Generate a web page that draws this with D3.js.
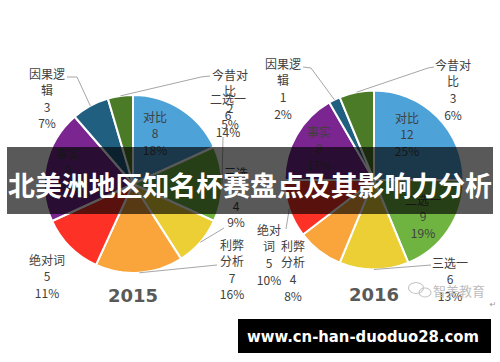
<!DOCTYPE html>
<html>
<head>
<meta charset="utf-8">
<script src="https://cdn.jsdelivr.net/npm/d3@7/dist/d3.min.js"></script>
<style>
  html, body { margin: 0; padding: 0; background: #fff; }
  svg { display: block; }
</style>
</head>
<body>
<svg id="chart" width="500" height="362"></svg>
<script>
// ---- data ----
const categories = ["对比", "二选一", "三选一", "利弊分析", "绝对词", "事实", "因果逻辑", "今昔对比"];
const values2015 = [8, 6, 4, 7, 5, 9, 3, 2];
const values2016 = [12, 9, 6, 4, 5, 8, 1, 3];
const years = ["2015", "2016"];
const titleText = "北美洲地区知名杯赛盘点及其影响力分析";
const siteText = "www.cn-han-duoduo28.com";
const watermarkText = "智美教育";

// ---- styling ----
const sliceColors = ["#4da2d7", "#6fb440", "#eccf35", "#f9a53b", "#fd3126", "#7a2590", "#215f80", "#4b7b27"];
const color = d3.scaleOrdinal(categories, sliceColors);
const cjk = "'Noto Sans CJK SC', 'Noto Sans', sans-serif";

// ---- layout: pie placement, label anchors, wrap widths and leader start points ----
const layouts = {
  "2015": {
    cx: 133, cy: 184, r: 89, yearY: 301.5, lh: 16.6,
    labels: {
      "对比":   { x: 155, y: 116 },
      "二选一": { x: 228, y: 98,  lead: [[223, 137]] },
      "三选一": { x: 236, y: 172, wrap: 2, lead: [[224, 228]] },
      "利弊分析": { x: 232, y: 244, wrap: 2, lead: [[217, 265]] },
      "绝对词": { x: 47,  y: 259 },
      "事实":   { x: 68,  y: 153 },
      "因果逻辑": { x: 47, y: 73, wrap: 3, lead: [[67, 77], [77, 77]] },
      "今昔对比": { x: 230, y: 74, wrap: 3, lead: [[210, 76], [201, 77]] }
    }
  },
  "2016": {
    cx: 374, cy: 180, r: 89.5, yearY: 300.5, lh: 16.8,
    labels: {
      "对比":   { x: 407, y: 117 },
      "二选一": { x: 423, y: 199 },
      "三选一": { x: 450, y: 262, lead: [[431, 265]] },
      "利弊分析": { x: 293, y: 245, wrap: 2 },
      "绝对词": { x: 269, y: 229, wrap: 2, lead: [[286, 229]] },
      "事实":   { x: 319, y: 131 },
      "因果逻辑": { x: 283, y: 63, wrap: 3, lead: [[303, 67], [311, 68]] },
      "今昔对比": { x: 453, y: 64, wrap: 3, lead: [[434, 67], [428, 68]] }
    }
  }
};

const seriesByYear = { "2015": values2015, "2016": values2016 };

const svg = d3.select("#chart");
svg.append("rect").attr("width", 500).attr("height", 362).attr("fill", "#fff");

const pie = d3.pie().sort(null).value(d => d.value);

function chunk(str, n) {
  const out = [];
  for (let i = 0; i < str.length; i += n) out.push(str.slice(i, i + n));
  return out;
}

years.forEach(year => {
  const L = layouts[year];
  const vals = seriesByYear[year];
  const total = d3.sum(vals);
  const data = categories.map((c, i) => ({ name: c, value: vals[i] }));
  const arcs = pie(data);
  const arc = d3.arc().innerRadius(0).outerRadius(L.r);

  const g = svg.append("g");
  g.append("g")
    .attr("transform", `translate(${L.cx},${L.cy})`)
    .selectAll("path")
    .data(arcs)
    .join("path")
    .attr("d", arc)
    .attr("fill", d => color(d.data.name))
    .attr("stroke", "#fff")
    .attr("stroke-width", 2)
    .attr("stroke-linejoin", "round");

  // leader lines from label to the rim at each slice's mid-angle
  const line = d3.line();
  arcs.forEach(a => {
    const lab = L.labels[a.data.name];
    if (!lab || !lab.lead) return;
    const mid = (a.startAngle + a.endAngle) / 2;
    const edge = [L.cx + Math.sin(mid) * L.r, L.cy - Math.cos(mid) * L.r];
    g.append("path")
      .attr("d", line([...lab.lead, edge]))
      .attr("fill", "none")
      .attr("stroke", "#a6a6a6")
      .attr("stroke-width", 1);
  });

  // data labels: name (wrapped), value, percentage
  arcs.forEach(a => {
    const lab = L.labels[a.data.name];
    const nameLines = lab.wrap ? chunk(a.data.name, lab.wrap) : [a.data.name];
    const pct = Math.round(a.data.value / total * 100) + "%";
    const lines = [...nameLines, String(a.data.value), pct];
    const t = g.append("text")
      .attr("font-family", cjk)
      .attr("font-size", 12)
      .attr("fill", "#404040")
      .attr("text-anchor", "middle");
    lines.forEach((s, i) => {
      t.append("tspan")
        .attr("x", lab.x)
        .attr("y", lab.y + i * L.lh)
        .attr("dominant-baseline", "central")
        .text(s);
    });
  });

  // year caption
  g.append("text")
    .attr("x", L.cx)
    .attr("y", L.yearY)
    .attr("text-anchor", "middle")
    .attr("font-family", "'DejaVu Sans', Verdana, sans-serif")
    .attr("font-weight", "bold")
    .attr("font-size", 18)
    .attr("fill", "#595959")
    .text(year);
});

// watermark
const wm = svg.append("g").attr("fill", "none").attr("stroke", "#c4c4c4").attr("stroke-width", 1.1);
wm.append("ellipse").attr("cx", 416).attr("cy", 288).attr("rx", 7.5).attr("ry", 5.5);
wm.append("ellipse").attr("cx", 425).attr("cy", 292.5).attr("rx", 6).attr("ry", 4.5);
svg.append("text")
  .attr("x", 459).attr("y", 290)
  .attr("text-anchor", "middle")
  .attr("dominant-baseline", "central")
  .attr("font-family", cjk)
  .attr("font-size", 13)
  .attr("fill", "#bdbdbd")
  .text(watermarkText);
svg.append("text")
  .attr("x", 493).attr("y", 307)
  .attr("text-anchor", "middle")
  .attr("font-family", "'DejaVu Sans', sans-serif")
  .attr("font-size", 8)
  .attr("fill", "#9a9a9a")
  .text("↵");

// title banner
svg.append("rect")
  .attr("x", 7).attr("y", 147).attr("width", 486).attr("height", 67)
  .attr("fill", "rgba(0,0,0,0.65)");
svg.append("text")
  .attr("x", 250).attr("y", 184)
  .attr("text-anchor", "middle")
  .attr("dominant-baseline", "central")
  .attr("font-family", cjk)
  .attr("font-weight", 700)
  .attr("font-size", 27)
  .attr("fill", "#fff")
  .attr("textLength", 484)
  .attr("lengthAdjust", "spacingAndGlyphs")
  .text(titleText);

// site banner
svg.append("rect")
  .attr("x", 238).attr("y", 319).attr("width", 253).attr("height", 34)
  .attr("fill", "#000");
svg.append("text")
  .attr("x", 363).attr("y", 342)
  .attr("text-anchor", "middle")
  .attr("font-family", "'DejaVu Sans', Verdana, sans-serif")
  .attr("font-weight", "bold")
  .attr("font-size", 16)
  .attr("fill", "#fff")
  .attr("textLength", 232)
  .attr("lengthAdjust", "spacingAndGlyphs")
  .text(siteText);
</script>
</body>
</html>
